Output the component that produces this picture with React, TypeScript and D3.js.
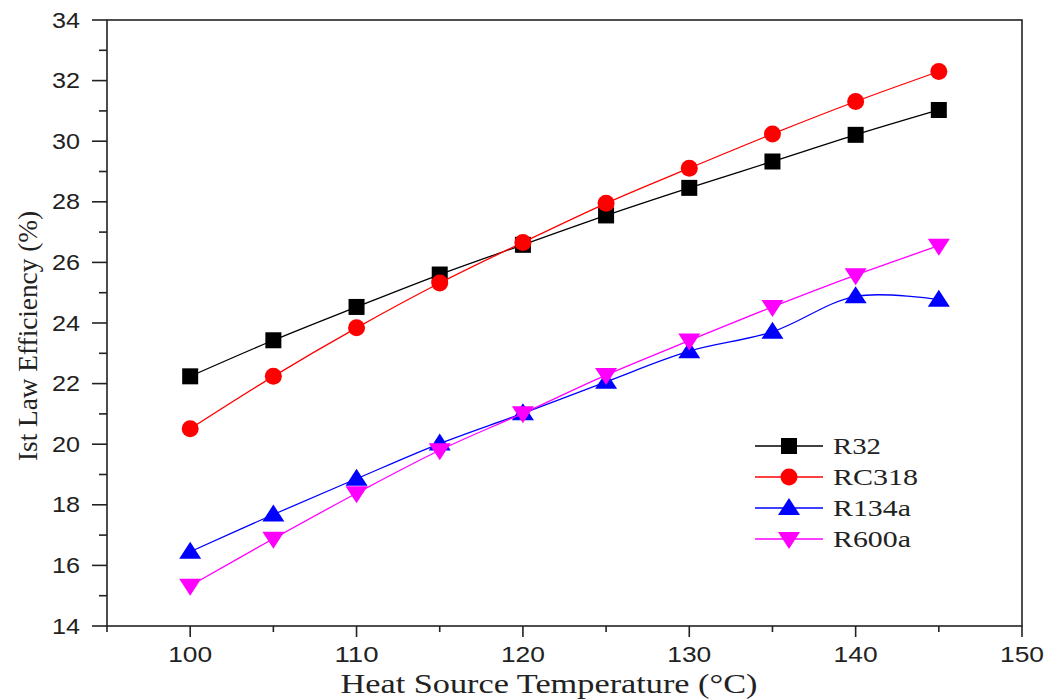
import React from "react";
import * as d3 from "d3";

// Heat source temperature (°C)
const temperatures = [100, 105, 110, 115, 120, 125, 130, 135, 140, 145];

// 1st law efficiency (%) for each working fluid
const r32 = [22.24, 23.43, 24.53, 25.6, 26.58, 27.55, 28.46, 29.33, 30.21, 31.03];
const rc318 = [20.51, 22.24, 23.84, 25.32, 26.66, 27.95, 29.11, 30.24, 31.31, 32.3];
const r134a = [16.45, 17.68, 18.86, 20.02, 21.02, 22.06, 23.07, 23.71, 24.88, 24.77];
const r600a = [15.33, 16.88, 18.38, 19.8, 21.02, 22.28, 23.42, 24.53, 25.58, 26.55];

const xMajorTicks = [100, 110, 120, 130, 140, 150];
const xMinorTicks = [95, 105, 115, 125, 135, 145];
const yMajorTicks = [14, 16, 18, 20, 22, 24, 26, 28, 30, 32, 34];
const yMinorTicks = [15, 17, 19, 21, 23, 25, 27, 29, 31, 33];

type Shape = "square" | "circle" | "triangleUp" | "triangleDown";
const seriesList: { name: string; values: number[]; color: string; shape: Shape }[] = [
  { name: "R32", values: r32, color: "#000000", shape: "square" },
  { name: "RC318", values: rc318, color: "#ff0000", shape: "circle" },
  { name: "R134a", values: r134a, color: "#0000ff", shape: "triangleUp" },
  { name: "R600a", values: r600a, color: "#ff00ff", shape: "triangleDown" },
];

const W = 1050;
const H = 700;
const left = 107;
const right = 1022;
const top = 20;
const bottom = 626;

const x = d3.scaleLinear().domain([95, 150]).range([left, right]);
const y = d3.scaleLinear().domain([14, 34]).range([bottom, top]);

function Marker({ shape, cx, cy, color }: { shape: Shape; cx: number; cy: number; color: string }) {
  if (shape === "square") {
    return <rect x={cx - 8} y={cy - 8} width={16} height={16} fill={color} />;
  }
  if (shape === "circle") {
    return <circle cx={cx} cy={cy} r={8.5} fill={color} />;
  }
  if (shape === "triangleUp") {
    return <path d={`M${cx},${cy - 10}L${cx + 11},${cy + 7}L${cx - 11},${cy + 7}Z`} fill={color} />;
  }
  return <path d={`M${cx},${cy + 10}L${cx + 11},${cy - 7}L${cx - 11},${cy - 7}Z`} fill={color} />;
}

export default function App() {
  const line = d3
    .line<number>()
    .x((_, i) => x(temperatures[i]))
    .y((v) => y(v))
    .curve(d3.curveCatmullRom.alpha(0.5));

  const sans = "Arial, 'Liberation Sans', sans-serif";
  const serif = "'Times New Roman', 'Liberation Serif', serif";

  const legendX = 755;
  const legendY0 = 446;
  const legendDy = 31;
  const legendWidths: Record<string, number> = { R32: 48, RC318: 85, R134a: 78, R600a: 78 };

  return (
    <div style={{ position: "absolute", left: 0, top: 0 }}>
      <svg width={W} height={H} style={{ display: "block", background: "#fff" }}>
        {/* frame */}
        <rect x={left} y={top} width={right - left} height={bottom - top} fill="none" stroke="#222" strokeWidth={1.6} />

        {/* y ticks */}
        {yMajorTicks.map((t) => (
          <g key={`ym${t}`}>
            <line x1={left - 15} x2={left} y1={y(t)} y2={y(t)} stroke="#222" strokeWidth={1.6} />
            <text
              x={80}
              y={y(t)}
              textAnchor="end"
              dominantBaseline="central"
              fontFamily={sans}
              fontSize={22}
              fill="#222"
              textLength={28}
              lengthAdjust="spacingAndGlyphs"
            >
              {t}
            </text>
          </g>
        ))}
        {yMinorTicks.map((t) => (
          <line key={`yn${t}`} x1={left - 8} x2={left} y1={y(t)} y2={y(t)} stroke="#222" strokeWidth={1.6} />
        ))}

        {/* x ticks */}
        {xMajorTicks.map((t) => (
          <g key={`xm${t}`}>
            <line x1={x(t)} x2={x(t)} y1={bottom} y2={bottom + 11} stroke="#222" strokeWidth={1.6} />
            <text
              x={x(t)}
              y={654}
              textAnchor="middle"
              dominantBaseline="central"
              fontFamily={sans}
              fontSize={22}
              fill="#222"
              textLength={44}
              lengthAdjust="spacingAndGlyphs"
            >
              {t}
            </text>
          </g>
        ))}
        {xMinorTicks.map((t) => (
          <line key={`xn${t}`} x1={x(t)} x2={x(t)} y1={bottom} y2={bottom + 6} stroke="#222" strokeWidth={1.6} />
        ))}

        {/* axis titles */}
        <text
          x={549}
          y={693}
          textAnchor="middle"
          fontFamily={serif}
          fontSize={28}
          fill="#222"
          textLength={417}
          lengthAdjust="spacingAndGlyphs"
        >
          Heat Source Temperature (°C)
        </text>
        <text
          transform="translate(37,336) rotate(-90)"
          textAnchor="middle"
          fontFamily={serif}
          fontSize={27}
          fill="#222"
          textLength={250}
          lengthAdjust="spacingAndGlyphs"
        >
          Ist Law Efficiency (%)
        </text>

        {/* series */}
        {seriesList.map((s) => (
          <g key={s.name}>
            <path d={line(s.values) || ""} fill="none" stroke={s.color} strokeWidth={1.3} />
            {s.values.map((v, i) => (
              <Marker key={i} shape={s.shape} cx={x(temperatures[i])} cy={y(v)} color={s.color} />
            ))}
          </g>
        ))}

        {/* legend */}
        {seriesList.map((s, i) => {
          const ly = legendY0 + i * legendDy;
          return (
            <g key={`lg${s.name}`}>
              <line x1={legendX} x2={legendX + 68} y1={ly} y2={ly} stroke={s.color} strokeWidth={1.3} />
              <Marker shape={s.shape} cx={legendX + 34} cy={ly} color={s.color} />
              <text
                x={833}
                y={ly}
                dominantBaseline="central"
                fontFamily={serif}
                fontSize={23}
                fill="#222"
                textLength={legendWidths[s.name]}
                lengthAdjust="spacingAndGlyphs"
              >
                {s.name}
              </text>
            </g>
          );
        })}
      </svg>
    </div>
  );
}
